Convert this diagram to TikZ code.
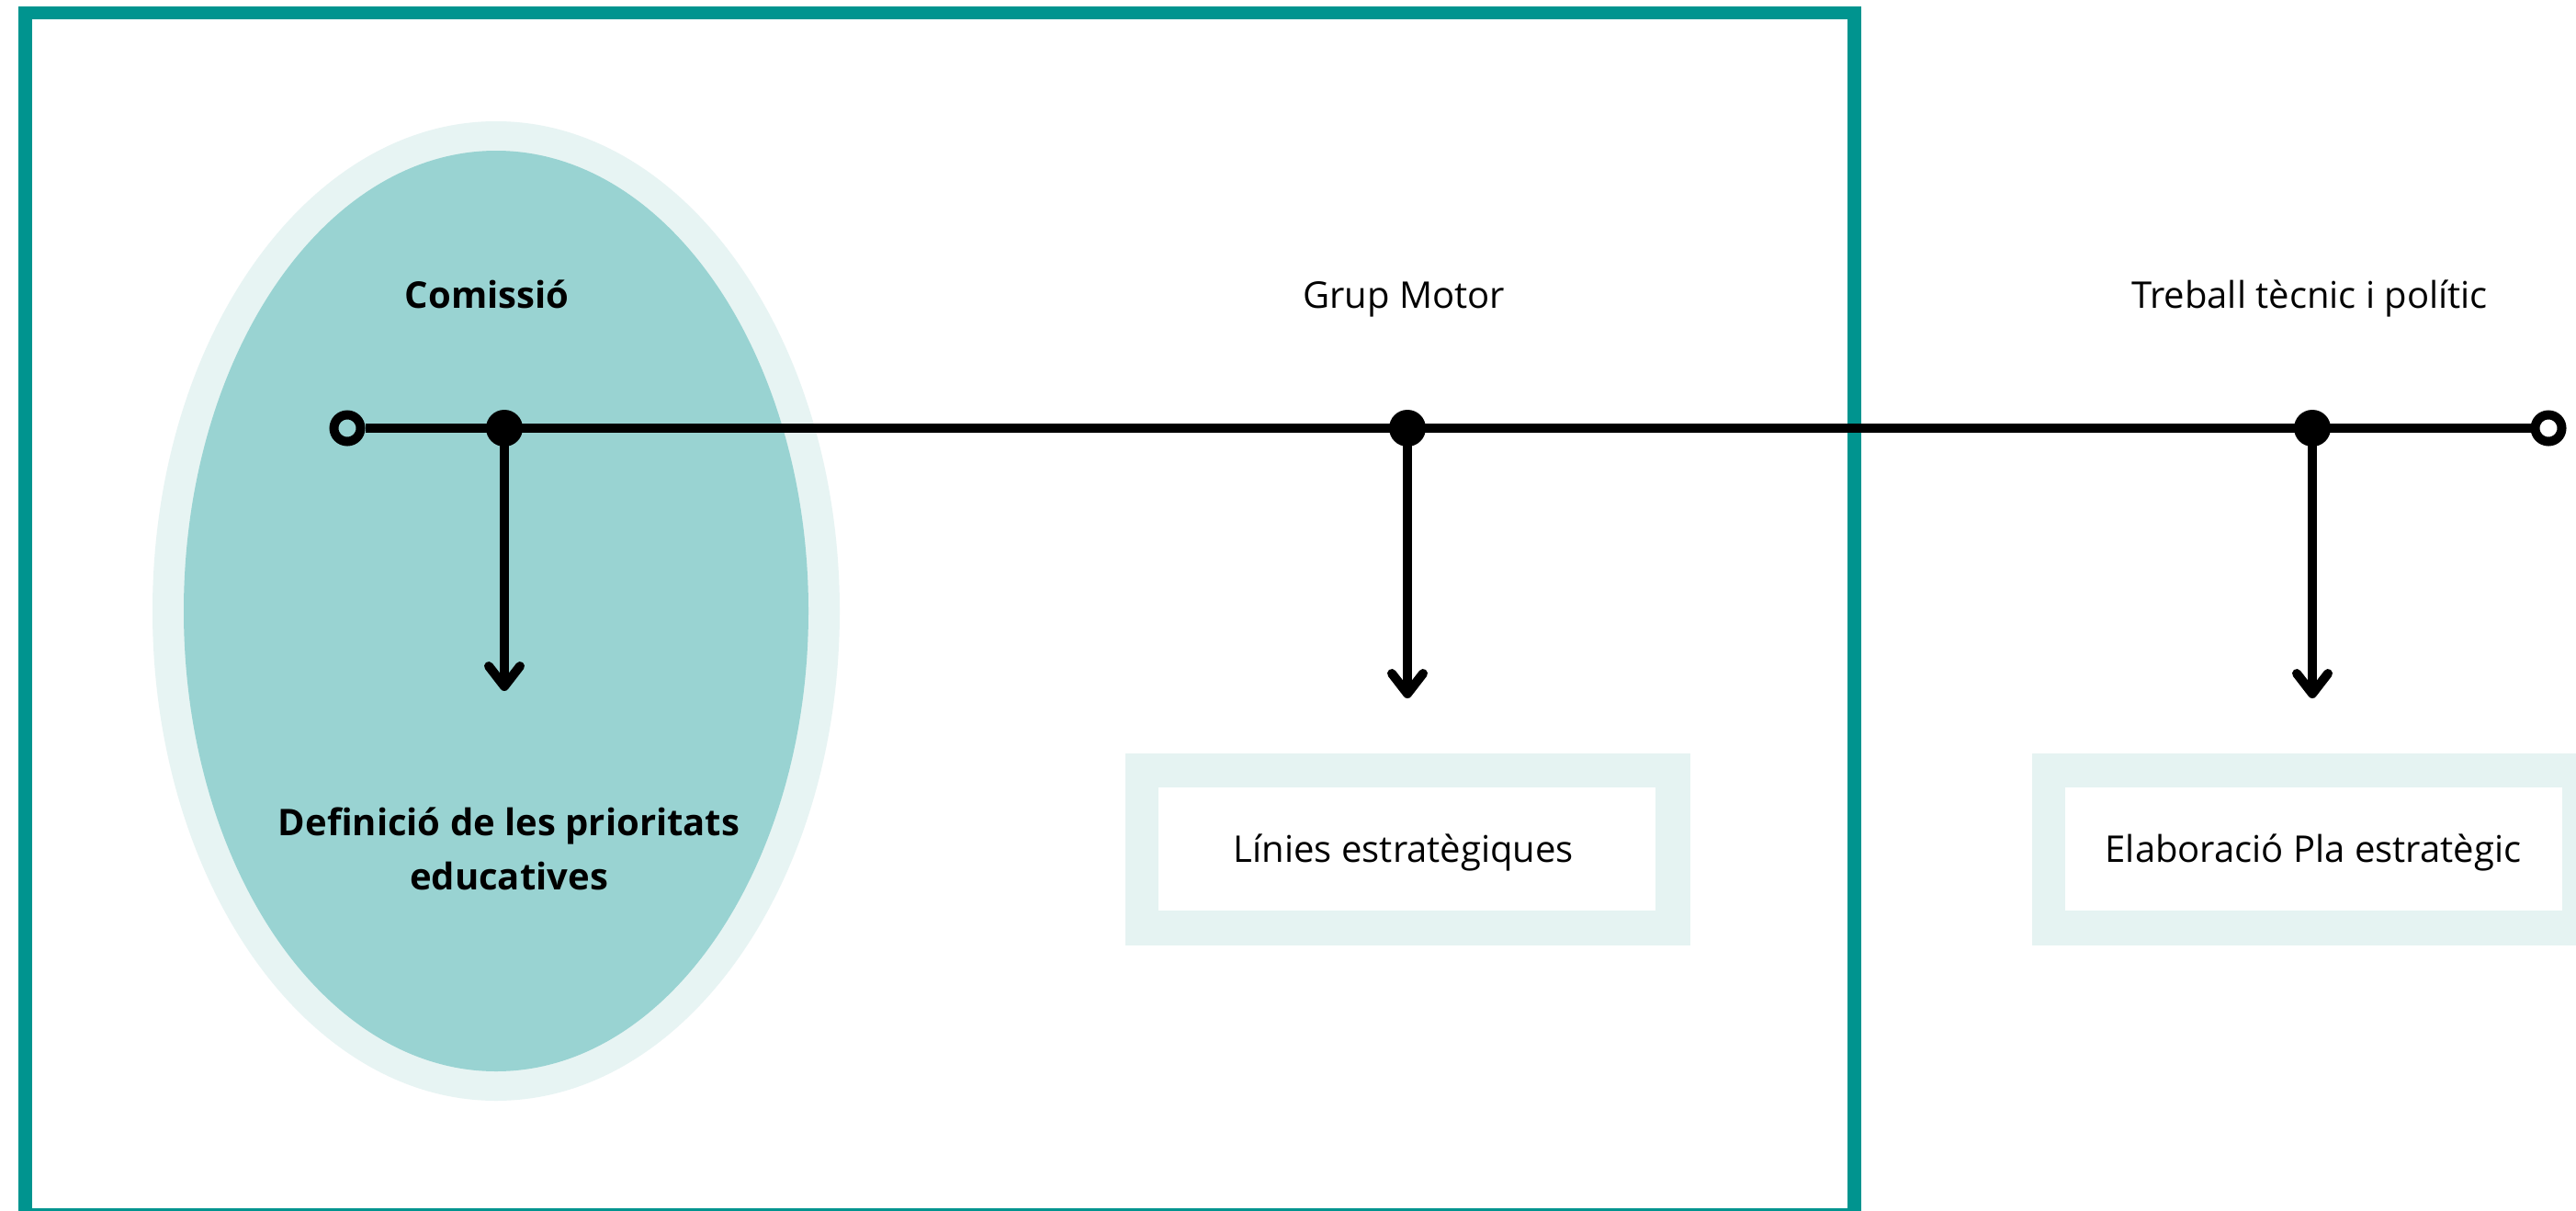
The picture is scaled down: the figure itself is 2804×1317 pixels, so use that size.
\documentclass[tikz,border=0pt]{standalone}
\usepackage{fontspec}
\setmainfont{Open Sans}
\usetikzlibrary{arrows.meta}
\definecolor{tealframe}{RGB}{0,148,143}
\definecolor{ellin}{RGB}{153,211,210}
\definecolor{ellout}{RGB}{231,244,243}
\definecolor{boxlight}{RGB}{229,243,242}
\tikzset{
  frame/.style={draw=tealframe, line width=14.5pt},
  dot/.style={circle, fill=black, inner sep=0pt, minimum size=40pt},
  ocirc/.style={circle, draw=black, line width=10pt, inner sep=0pt, minimum size=29pt},
  tl/.style={line width=10pt, draw=black},
  arr/.style={line width=10pt, draw=black, -{Straight Barb[length=22pt,width=34pt,round]}},
  lbl/.style={anchor=base, inner sep=0pt, font=\fontsize{40}{60}\selectfont},
  blbl/.style={anchor=base, inner sep=0pt, font=\fontsize{40}{60}\selectfont\bfseries},
  outerbox/.style={fill=boxlight, draw=none},
  innerbox/.style={fill=white, draw=none},
}
\begin{document}
\begin{tikzpicture}[x=1pt, y=-1pt]
\useasboundingbox (0,0) rectangle (2804,1317);
\clip (0,0) rectangle (2804,1317);
\fill[white] (0,0) rectangle (2804,1317);
% ellipse
\fill[ellout] (540,665) ellipse [x radius=374, y radius=533];
\fill[ellin] (540,665) ellipse [x radius=340, y radius=501];
% frame
\draw[frame] (27.5,14) rectangle (2018.5,1322);
% boxes
\fill[outerbox] (1225,820) rectangle (1840,1029);
\fill[innerbox] (1261,857) rectangle (1802,991);
\fill[outerbox] (2212,820) rectangle (2830,1029);
\fill[innerbox] (2248,857) rectangle (2789,991);
% texts
\node[blbl] (t1) at (530,335) {Comissió};
\node[lbl] (t2) at (1528,335) {Grup Motor};
\node[lbl] (t3) at (2514,335) {Treball tècnic i polític};
\node[blbl] (b1a) at (554,909) {Definició de les prioritats};
\node[blbl] (b1b) at (554,968) {educatives};
\node[lbl] (b2) at (1528,938) {Línies estratègiques};
\node[lbl] (b3) at (2518,938) {Elaboració Pla estratègic};
% timeline
\node[ocirc] (o1) at (378,466) {};
\node[ocirc] (o2) at (2774,466) {};
\node[dot] (d1) at (549,466) {};
\node[dot] (d2) at (1532,466) {};
\node[dot] (d3) at (2517,466) {};
\coordinate (a1) at (549,752);
\coordinate (a2) at (1532,760);
\coordinate (a3) at (2517,760);
\draw[tl] (o1) -- (o2);
\draw[arr] (d1.center) -- (a1);
\draw[arr] (d2.center) -- (a2);
\draw[arr] (d3.center) -- (a3);
\end{tikzpicture}
\end{document}
